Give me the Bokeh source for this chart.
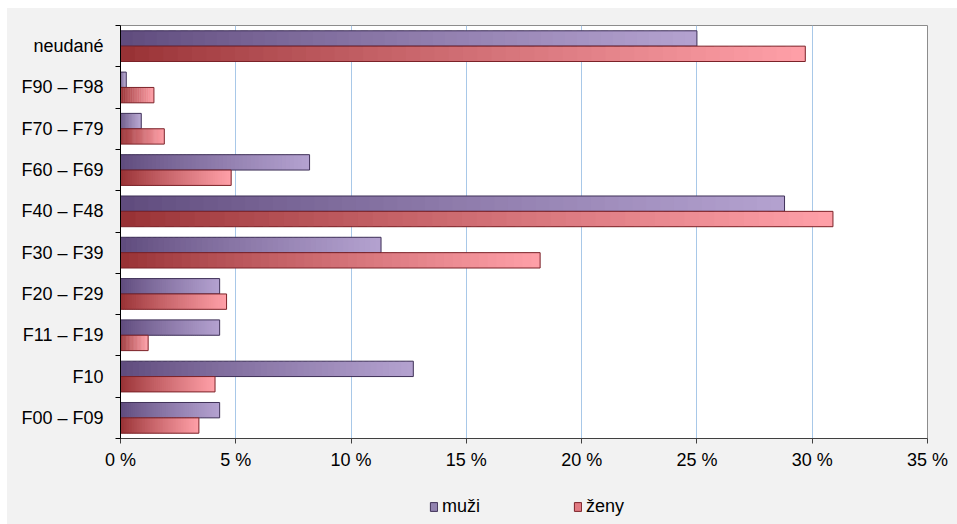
from bokeh.plotting import figure
from bokeh.layouts import column
from bokeh.models import Range1d, FixedTicker, ColumnDataSource, Legend, LegendItem
from bokeh.embed import file_html
from bokeh.resources import INLINE

# categories listed bottom to top
categories = ["F00 – F09", "F10", "F11 – F19", "F20 – F29", "F30 – F39",
              "F40 – F48", "F60 – F69", "F70 – F79", "F90 – F98", "neudané"]
muzi = [4.3, 12.7, 4.3, 4.3, 11.3, 28.8, 8.2, 0.9, 0.25, 25.0]
zeny = [3.4, 4.1, 1.2, 4.6, 18.2, 30.9, 4.8, 1.9, 1.45, 29.7]
series_names = ["muži", "ženy"]
x_ticks = [0, 5, 10, 15, 20, 25, 30, 35]
x_tick_labels = ["0 %", "5 %", "10 %", "15 %", "20 %", "25 %", "30 %", "35 %"]

FONT = "Liberation Sans"
BAR_H = 0.372
OFF = 0.186
BG = "#f2f2f2"

m_dark, m_light, m_line = (0x5e, 0x4a, 0x7c), (0xb4, 0xa2, 0xd0), "#3f3158"
z_dark, z_light, z_line = (0x96, 0x30, 0x33), (0xff, 0xa0, 0xa8), "#7b2228"

n_cat = len(categories)
centers = [i + 0.5 for i in range(n_cat)]

p = figure(width=950, height=472, x_range=Range1d(0, 35), y_range=Range1d(0, n_cat),
           output_backend="svg", toolbar_location=None,
           min_border_left=113, min_border_right=30, min_border_top=17, min_border_bottom=42,
           background_fill_color="white", border_fill_color=BG,
           outline_line_color="#8c8c8c", outline_line_width=1)


def gradient_source(values, ycs, dark, light, n=48):
    left, right, y, col = [], [], [], []
    for v, yy in zip(values, ycs):
        for k in range(n):
            t = ((k + 0.5) / n) ** 0.85
            c = tuple(int(round(d + (l - d) * t)) for d, l in zip(dark, light))
            left.append(v * k / n)
            right.append(min(v, v * (k + 1.6) / n))
            y.append(yy)
            col.append("#%02x%02x%02x" % c)
    return ColumnDataSource(dict(left=left, right=right, y=y, color=col))


y_m = [c + OFF for c in centers]
y_z = [c - OFF for c in centers]

for vals, ys, dark, light, lc in [(muzi, y_m, m_dark, m_light, m_line),
                                  (zeny, y_z, z_dark, z_light, z_line)]:
    src = gradient_source(vals, ys, dark, light)
    p.hbar(y="y", left="left", right="right", height=BAR_H, fill_color="color",
           line_color=None, source=src)
    p.hbar(y=ys, left=0, right=vals, height=BAR_H, fill_color=None,
           line_color=lc, line_width=1)

# x axis
p.xaxis.ticker = FixedTicker(ticks=x_ticks)
p.xaxis.major_label_overrides = {t: l for t, l in zip(x_ticks, x_tick_labels)}
p.xaxis.major_tick_out = 5
p.xaxis.major_tick_in = 0
p.xaxis.minor_tick_line_color = None
p.xaxis.axis_line_color = "#404040"
p.xaxis.major_tick_line_color = "#404040"
p.xaxis.major_label_text_font = FONT
p.xaxis.major_label_text_font_size = "18px"
p.xaxis.major_label_text_color = "black"
p.xaxis.major_label_standoff = 6

# y axis
p.yaxis.ticker = FixedTicker(ticks=centers, minor_ticks=list(range(n_cat + 1)))
p.yaxis.major_label_overrides = {c: l for c, l in zip(centers, categories)}
p.yaxis.major_tick_out = 0
p.yaxis.major_tick_in = 0
p.yaxis.minor_tick_out = 5
p.yaxis.minor_tick_in = 0
p.yaxis.minor_tick_line_color = "black"
p.yaxis.axis_line_color = "black"
p.yaxis.major_label_text_font = FONT
p.yaxis.major_label_text_font_size = "18px"
p.yaxis.major_label_text_color = "black"
p.yaxis.major_label_standoff = 12

# grids
p.xgrid.ticker = FixedTicker(ticks=x_ticks[1:-1])
p.xgrid.grid_line_color = "#a8c8e8"
p.xgrid.grid_line_width = 1
p.ygrid.visible = False

# legend strip below the chart
lg = figure(width=950, height=44, x_range=Range1d(0, 1), y_range=Range1d(0, 1),
            output_backend="svg", toolbar_location=None,
            min_border_left=113, min_border_right=30, min_border_top=0, min_border_bottom=0,
            background_fill_color=BG, border_fill_color=BG,
            outline_line_color=BG, outline_line_width=3)
lg.axis.visible = False
lg.grid.visible = False
rm = lg.hbar(y=[-5], left=[0], right=[1], height=0.5, fill_color="#9283b0", line_color=m_line)
rz = lg.hbar(y=[-5], left=[0], right=[1], height=0.5, fill_color="#e27a82", line_color=z_line)
legend = Legend(items=[LegendItem(label=series_names[0], renderers=[rm]),
                       LegendItem(label=series_names[1], renderers=[rz])],
                location=(309, 7), orientation="horizontal",
                glyph_width=9, glyph_height=11, label_standoff=4, label_width=128,
                spacing=3, padding=0, margin=0, border_line_color=None,
                background_fill_alpha=0, label_text_font=FONT,
                label_text_font_size="18px", label_text_color="black")
lg.add_layout(legend)

layout = column(p, lg, spacing=0, margin=(8, 0, 0, 7),
                styles={"background-color": BG})
open("out.html", "w").write(file_html(layout, INLINE))
